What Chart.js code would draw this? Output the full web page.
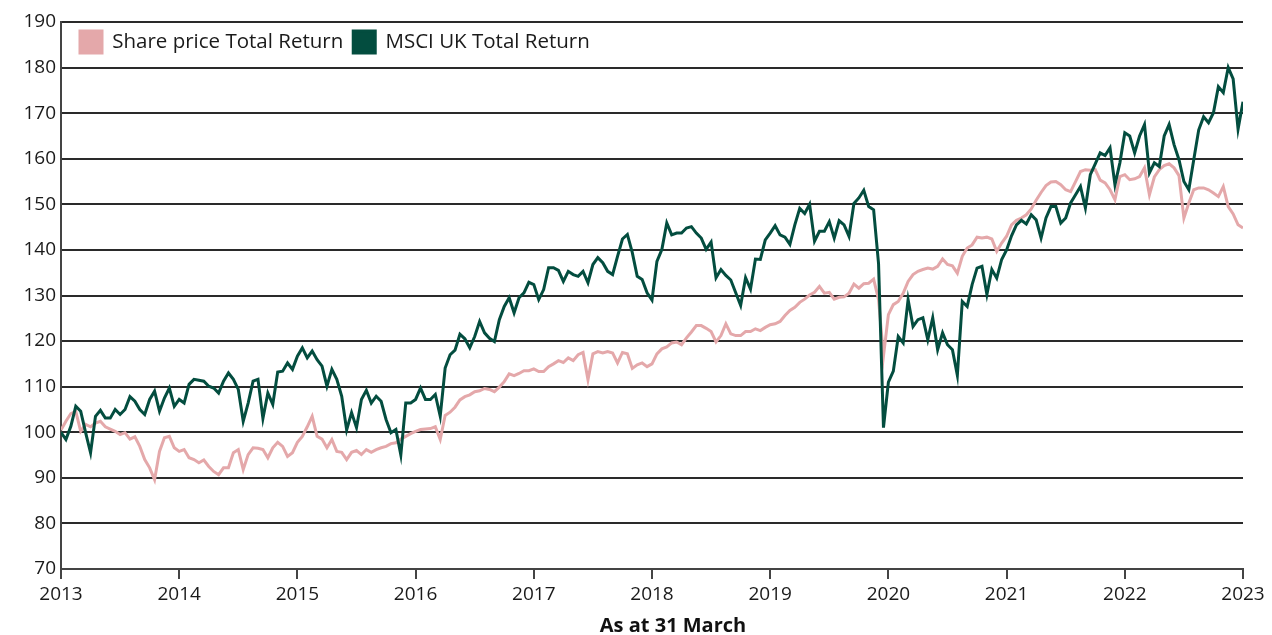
<!DOCTYPE html>
<html><head><meta charset="utf-8">
<script src="https://cdn.jsdelivr.net/npm/chart.js@4.4.0/dist/chart.umd.min.js"></script>
<style>html,body{margin:0;padding:0;background:#fff;overflow:hidden;}#wrap{width:1272px;height:635px;position:relative;}</style>
</head><body><div id="wrap"><canvas id="c" width="1272" height="635"></canvas></div>
<script>
const seriesNames = ['Share price Total Return', 'MSCI UK Total Return'];
const seriesColors = ['#E4A8AA', '#034D3F'];
const yearTicks = [2013, 2014, 2015, 2016, 2017, 2018, 2019, 2020, 2021, 2022, 2023];
const valueTicks = [70, 80, 90, 100, 110, 120, 130, 140, 150, 160, 170, 180, 190];
const axisTitle = 'As at 31 March';
const startYear = 2013;
const stepsPerYear = 24; // half-month sampling

const shareTR = [
  100.5, 102.4, 104.1, 104.6, 100.2, 101.7, 101.2, 102, 102.4, 101.2, 100.7, 100.2,
  99.5, 99.9, 98.5, 99, 96.9, 94, 92.2, 89.6, 95.8, 98.8, 99.1, 96.6,
  95.8, 96.2, 94.4, 94, 93.3, 93.9, 92.5, 91.4, 90.7, 92.2, 92.2, 95.5,
  96.2, 91.8, 95.1, 96.6, 96.5, 96.2, 94.4, 96.6, 97.8, 96.9, 94.7, 95.5,
  97.8, 99.1, 101.2, 103.5, 99.1, 98.5, 96.6, 98.4, 95.8, 95.6, 94, 95.6,
  96, 95.1, 96.2, 95.6, 96.2, 96.6, 96.9, 97.5, 97.7, 98.5, 99.1, 99.7,
  100.2, 100.6, 100.7, 100.8, 101.2, 98.4, 103.7, 104.4, 105.5, 107.1, 107.8, 108.2,
  108.9, 109.1, 109.6, 109.4, 108.9, 109.9, 111.1, 112.8, 112.4, 112.9, 113.5, 113.5,
  113.9, 113.3, 113.3, 114.4, 115, 115.7, 115.3, 116.3, 115.7, 117, 117.5, 111.5,
  117.2, 117.7, 117.4, 117.7, 117.4, 115.2, 117.5, 117.2, 114, 114.8, 115.2, 114.4,
  115, 117.2, 118.3, 118.7, 119.6, 119.8, 119.2, 120.7, 122, 123.4, 123.4, 122.8,
  122.1, 119.8, 121.2, 123.8, 121.6, 121.2, 121.2, 122.1, 122.1, 122.7, 122.3, 123,
  123.6, 123.8, 124.3, 125.6, 126.7, 127.4, 128.5, 129.2, 130.1, 130.7, 132, 130.5,
  130.7, 129.2, 129.6, 129.7, 130.5, 132.5, 131.6, 132.6, 132.7, 133.6, 129.1, 116.7,
  125.8, 128, 128.7, 130.5, 133.1, 134.6, 135.3, 135.7, 136, 135.8, 136.4, 138,
  136.8, 136.5, 134.9, 138.6, 140.4, 141.1, 142.8, 142.6, 142.8, 142.4, 139.7, 141.5,
  143, 145.5, 146.5, 147, 147.7, 149, 150.9, 152.6, 154.1, 154.9, 155, 154.3,
  153.2, 152.8, 155, 157.2, 157.6, 157.5, 157.6, 155.3, 154.7, 153.2, 151, 156.1,
  156.5, 155.4, 155.6, 156.1, 158, 152.1, 156, 157.6, 158.5, 158.9, 158, 156.3,
  147, 150.3, 153.2, 153.6, 153.6, 153.2, 152.5, 151.7, 153.9, 149.5, 147.9, 145.5,
  144.8
];

const msciTR = [
  100, 98.4, 101.3, 105.7, 104.6, 99.9, 95.5, 103.5, 104.8, 103.1, 103.1, 105,
  103.9, 105, 107.8, 106.8, 105, 103.9, 107.2, 109, 104.6, 107.5, 109.7, 105.7,
  107.2, 106.4, 110.5, 111.6, 111.4, 111.2, 110.1, 109.7, 108.6, 111.2, 113, 111.6,
  109.4, 102.4, 106.4, 111.2, 111.6, 103, 108.6, 106.1, 113.2, 113.4, 115.2, 113.8,
  116.7, 118.5, 116.3, 117.8, 115.9, 114.5, 110.1, 113.8, 111.6, 107.9, 100.5, 104.3,
  101, 107.2, 109.2, 106.4, 107.9, 106.8, 102.8, 99.9, 100.6, 95, 106.4, 106.4,
  107.2, 109.7, 107.2, 107.2, 108.3, 103.5, 114.1, 117, 118, 121.5, 120.5, 118.5,
  121, 124.3, 121.8, 120.6, 119.9, 124.7, 127.6, 129.5, 126.2, 129.5, 130.6, 132.9,
  132.4, 129.1, 131.3, 136.1, 136.1, 135.5, 133.1, 135.3, 134.6, 134.2, 135.3, 132.8,
  136.8, 138.3, 137.2, 135.3, 134.6, 138.6, 142.4, 143.4, 139.4, 134.2, 133.5, 130.6,
  129, 137.5, 140.1, 145.9, 143.3, 143.7, 143.7, 144.8, 145.1, 143.7, 142.6, 140.1,
  141.7, 133.9, 135.7, 134.4, 133.4, 130.6, 127.8, 133.9, 131.4, 138, 137.9, 142.2,
  143.7, 145.3, 143.3, 142.8, 141.2, 145.5, 149.1, 148, 150, 141.9, 144.1, 144.1,
  146.2, 142.6, 146.4, 145.5, 143, 150.2, 151.4, 153.1, 149.5, 148.8, 137, 101,
  111, 113.4, 121, 119.6, 129.1, 123.2, 124.7, 125.1, 120.3, 125.1, 118.1, 121.8,
  119.2, 118.1, 112.5, 128.7, 127.6, 132.4, 136, 136.4, 130.2, 135.7, 133.8, 137.9,
  140, 143.1, 145.5, 146.5, 145.7, 147.7, 146.6, 142.6, 147, 149.5, 149.5, 145.9,
  147, 150.3, 152.1, 153.9, 149.2, 156.5, 158.9, 161.3, 160.7, 162.4, 154.3, 159.1,
  165.7, 165, 161.3, 165, 167.5, 156.9, 159.1, 158.3, 165, 167.5, 163.1, 159.8,
  155, 153.2, 159.8, 166.3, 169.2, 167.9, 170.1, 175.8, 174.5, 180, 177.5, 166.5,
  172.5
];

const dates = shareTR.map((_, i) => startYear + i / stepsPerYear);

const FONT = "'Open Sans', 'Noto Sans', sans-serif";
Chart.defaults.font.family = FONT;
Chart.defaults.color = '#1a1a1a';

const extras = {
  id: 'extras',
  beforeLayout(chart) {
    const lg = chart.legend;
    if (lg && !lg.__patched) {
      const fit = lg.fit;
      lg.fit = function () { fit.call(this); this.__h = this.height; this.height = 0; };
      lg.__patched = true;
    }
  },
  afterLayout(chart) {
    const lg = chart.legend;
    if (lg) {
      const h = lg.__h || lg.height;
      const w = 700;
      lg.width = w; lg.height = h;
      lg.left = 70; lg.right = 70 + w;
      lg.top = 21; lg.bottom = 21 + h;
    }
  },
  afterDraw(chart) {
    const ctx = chart.ctx;
    ctx.save();
    ctx.font = "bold 20px " + FONT;
    ctx.fillStyle = '#111';
    ctx.textAlign = 'center';
    ctx.textBaseline = 'middle';
    ctx.fillText(axisTitle, 673, 626);
    ctx.restore();
  }
};

new Chart(document.getElementById('c'), {
  type: 'line',
  data: {
    datasets: [
      {
        label: seriesNames[0],
        data: dates.map((d, i) => ({ x: d, y: shareTR[i] })),
        borderColor: seriesColors[0], backgroundColor: seriesColors[0],
        borderWidth: 3, pointRadius: 0, tension: 0, order: 1
      },
      {
        label: seriesNames[1],
        data: dates.map((d, i) => ({ x: d, y: msciTR[i] })),
        borderColor: seriesColors[1], backgroundColor: seriesColors[1],
        borderWidth: 3, pointRadius: 0, tension: 0, order: 0
      }
    ]
  },
  options: {
    responsive: false,
    animation: false,
    devicePixelRatio: 1,
    layout: { padding: { left: 0, right: 29, top: 22, bottom: 0 } },
    plugins: {
      tooltip: { enabled: false },
      legend: {
        position: 'top',
        align: 'start',
        labels: {
          boxWidth: 22, boxHeight: 22, padding: 10,
          font: { size: 20.5 }, color: '#1a1a1a',
          sort: (a, b) => a.datasetIndex - b.datasetIndex
        }
      }
    },
    scales: {
      x: {
        type: 'linear',
        min: yearTicks[0], max: yearTicks[yearTicks.length - 1],
        afterBuildTicks(scale) { scale.ticks = yearTicks.map(v => ({ value: v })); },
        afterFit(scale) { scale.height = 66; },
        ticks: { callback: v => String(v), font: { size: 19 }, color: '#1a1a1a', padding: 4, maxRotation: 0, autoSkip: false },
        grid: { drawOnChartArea: false, drawTicks: true, tickLength: 10, color: '#444', lineWidth: 2 },
        border: { display: true, color: '#444', width: 2 }
      },
      y: {
        min: valueTicks[0], max: valueTicks[valueTicks.length - 1],
        afterBuildTicks(scale) { scale.ticks = valueTicks.map(v => ({ value: v })); },
        afterFit(scale) { scale.width = 61; },
        ticks: { font: { size: 19 }, color: '#1a1a1a', padding: 5 },
        grid: { color: '#2a2a2a', lineWidth: 2, drawTicks: false },
        border: { display: true, color: '#444', width: 2 }
      }
    }
  },
  plugins: [extras]
});
</script>
</body></html>
